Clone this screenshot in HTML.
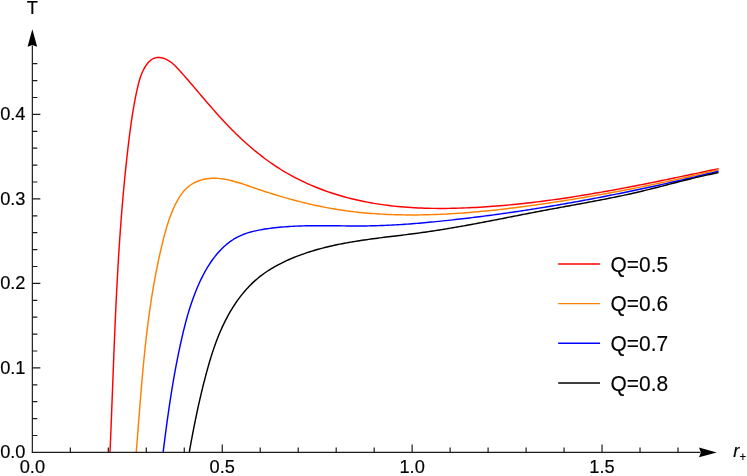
<!DOCTYPE html><html><head><meta charset="utf-8"><title>T vs r+</title>
<style>html,body{margin:0;padding:0;background:#fff}svg{display:block;will-change:transform}text{font-family:"Liberation Sans",sans-serif;fill:#000}</style></head><body>
<svg width="747" height="476" viewBox="0 0 747 476">
<rect width="747" height="476" fill="#fff"/>
<g fill="none" stroke-width="1.45" stroke-linejoin="round" stroke-linecap="butt">
<path stroke="#ff0000" d="M110.02 451.99 L110.17 448.58 L110.31 445.17 L110.46 441.76 L110.60 438.35 L110.74 434.94 L110.88 431.52 L111.02 428.11 L111.16 424.70 L111.29 421.29 L111.43 417.87 L111.56 414.46 L111.69 411.05 L111.82 407.64 L111.95 404.22 L112.09 400.81 L112.22 397.40 L112.35 393.98 L112.48 390.57 L112.61 387.16 L112.74 383.74 L112.87 380.33 L113.00 376.92 L113.13 373.50 L113.26 370.09 L113.39 366.68 L113.52 363.26 L113.65 359.85 L113.79 356.44 L113.92 353.02 L114.06 349.61 L114.20 346.20 L114.34 342.78 L114.48 339.37 L114.62 335.96 L114.76 332.55 L114.90 329.13 L115.05 325.72 L115.20 322.31 L115.35 318.89 L115.50 315.48 L115.66 312.07 L115.82 308.66 L115.98 305.25 L116.14 301.83 L116.31 298.42 L116.47 295.01 L116.64 291.60 L116.82 288.19 L117.00 284.78 L117.18 281.37 L117.36 277.96 L117.55 274.55 L117.74 271.14 L117.93 267.73 L118.13 264.32 L118.34 260.91 L118.54 257.50 L118.75 254.09 L118.97 250.68 L119.19 247.27 L119.41 243.87 L119.64 240.46 L119.87 237.05 L120.11 233.64 L120.35 230.24 L120.60 226.83 L120.85 223.42 L121.11 220.02 L121.37 216.61 L121.64 213.21 L121.91 209.80 L122.19 206.40 L122.48 202.99 L122.77 199.59 L123.07 196.19 L123.37 192.79 L123.68 189.38 L123.99 185.98 L124.32 182.58 L124.64 179.18 L124.98 175.78 L125.32 172.38 L125.67 168.98 L126.03 165.58 L126.39 162.18 L126.76 158.78 L127.13 155.39 L127.52 151.99 L127.91 148.59 L128.31 145.20 L128.72 141.80 L129.13 138.40 L129.56 135.01 L130.00 131.62 L130.45 128.23 L130.91 124.85 L131.39 121.47 L131.89 118.09 L132.41 114.72 L132.95 111.36 L133.51 108.00 L134.10 104.65 L134.71 101.31 L135.35 97.98 L136.01 94.66 L136.71 91.34 L137.44 88.04 L138.21 84.75 L139.05 81.47 L140.03 78.20 L141.17 74.95 L142.53 71.71 L144.16 68.50 L146.06 65.39 L148.25 62.56 L150.70 60.20 L153.41 58.49 L156.37 57.58 L159.51 57.47 L162.71 58.05 L165.88 59.19 L168.91 60.80 L171.70 62.77 L174.30 65.00 L176.74 67.42 L179.08 69.96 L181.38 72.54 L183.67 75.13 L185.93 77.73 L188.19 80.33 L190.43 82.93 L192.66 85.54 L194.89 88.15 L197.11 90.76 L199.32 93.36 L201.54 95.97 L203.75 98.57 L205.97 101.16 L208.19 103.75 L210.42 106.32 L212.66 108.89 L214.91 111.45 L217.17 113.99 L219.44 116.52 L221.74 119.04 L224.05 121.54 L226.38 124.02 L228.74 126.48 L231.12 128.92 L233.52 131.34 L235.95 133.73 L238.41 136.10 L240.89 138.45 L243.39 140.77 L245.93 143.06 L248.49 145.32 L251.07 147.55 L253.68 149.75 L256.32 151.92 L258.99 154.05 L261.68 156.15 L264.40 158.21 L267.14 160.24 L269.92 162.22 L272.72 164.16 L275.55 166.07 L278.41 167.93 L281.30 169.75 L284.21 171.52 L287.15 173.25 L290.13 174.93 L293.13 176.56 L296.15 178.15 L299.20 179.69 L302.27 181.19 L305.37 182.65 L308.49 184.06 L311.62 185.42 L314.78 186.75 L317.96 188.02 L321.15 189.26 L324.36 190.45 L327.59 191.60 L330.83 192.71 L334.09 193.77 L337.36 194.79 L340.64 195.77 L343.93 196.71 L347.23 197.61 L350.53 198.46 L353.85 199.27 L357.17 200.05 L360.50 200.78 L363.84 201.48 L367.18 202.14 L370.53 202.76 L373.89 203.34 L377.25 203.89 L380.62 204.40 L383.99 204.88 L387.36 205.32 L390.75 205.73 L394.13 206.11 L397.52 206.46 L400.91 206.77 L404.31 207.06 L407.71 207.31 L411.12 207.54 L414.52 207.74 L417.93 207.92 L421.34 208.06 L424.76 208.18 L428.17 208.28 L431.59 208.35 L435.01 208.40 L438.43 208.42 L441.85 208.43 L445.27 208.41 L448.69 208.37 L452.11 208.31 L455.53 208.24 L458.95 208.14 L462.37 208.03 L465.79 207.90 L469.21 207.75 L472.62 207.59 L476.04 207.41 L479.45 207.22 L482.86 207.01 L486.27 206.79 L489.68 206.56 L493.08 206.31 L496.49 206.04 L499.89 205.77 L503.30 205.48 L506.70 205.17 L510.10 204.86 L513.49 204.53 L516.89 204.18 L520.29 203.83 L523.68 203.46 L527.07 203.08 L530.46 202.69 L533.85 202.29 L537.24 201.88 L540.63 201.45 L544.02 201.02 L547.40 200.57 L550.78 200.12 L554.17 199.65 L557.55 199.17 L560.93 198.69 L564.31 198.19 L567.68 197.69 L571.06 197.17 L574.43 196.65 L577.81 196.12 L581.18 195.57 L584.55 195.03 L587.92 194.47 L591.29 193.90 L594.66 193.33 L598.03 192.75 L601.39 192.16 L604.76 191.57 L608.12 190.96 L611.48 190.35 L614.84 189.74 L618.20 189.12 L621.56 188.49 L624.92 187.86 L628.28 187.22 L631.64 186.58 L634.99 185.93 L638.35 185.27 L641.70 184.61 L645.05 183.95 L648.40 183.28 L651.75 182.61 L655.10 181.93 L658.45 181.25 L661.80 180.57 L665.15 179.89 L668.50 179.20 L671.84 178.50 L675.19 177.81 L678.53 177.11 L681.87 176.41 L685.22 175.71 L688.56 175.01 L691.90 174.30 L695.24 173.60 L698.58 172.89 L701.92 172.18 L705.25 171.47 L708.59 170.76 L711.93 170.05 L715.26 169.34 L718.60 168.63"/>
<path stroke="#ff8000" d="M136.28 451.98 L136.50 449.28 L136.71 446.57 L136.93 443.87 L137.14 441.16 L137.35 438.45 L137.56 435.74 L137.77 433.03 L137.98 430.32 L138.19 427.60 L138.40 424.89 L138.61 422.18 L138.82 419.46 L139.03 416.75 L139.24 414.03 L139.46 411.32 L139.67 408.60 L139.88 405.88 L140.10 403.17 L140.32 400.45 L140.54 397.73 L140.76 395.01 L140.98 392.30 L141.21 389.58 L141.44 386.86 L141.67 384.14 L141.90 381.42 L142.14 378.71 L142.38 375.99 L142.62 373.27 L142.87 370.56 L143.12 367.84 L143.38 365.12 L143.64 362.41 L143.90 359.69 L144.17 356.98 L144.45 354.27 L144.73 351.55 L145.01 348.84 L145.30 346.13 L145.60 343.42 L145.90 340.71 L146.20 338.00 L146.52 335.29 L146.84 332.58 L147.16 329.88 L147.50 327.17 L147.84 324.47 L148.18 321.77 L148.54 319.07 L148.90 316.37 L149.27 313.67 L149.64 310.97 L150.03 308.28 L150.42 305.58 L150.83 302.89 L151.24 300.20 L151.65 297.51 L152.08 294.83 L152.52 292.14 L152.97 289.46 L153.42 286.78 L153.89 284.10 L154.37 281.42 L154.85 278.75 L155.35 276.07 L155.85 273.40 L156.37 270.74 L156.90 268.07 L157.44 265.41 L157.99 262.74 L158.55 260.09 L159.13 257.43 L159.71 254.78 L160.31 252.12 L160.92 249.48 L161.54 246.83 L162.18 244.19 L162.82 241.55 L163.48 238.91 L164.16 236.28 L164.85 233.65 L165.57 231.02 L166.32 228.41 L167.09 225.80 L167.91 223.19 L168.76 220.60 L169.65 218.02 L170.60 215.45 L171.59 212.89 L172.64 210.35 L173.76 207.82 L174.93 205.30 L176.18 202.81 L177.50 200.35 L178.91 197.95 L180.41 195.63 L182.01 193.39 L183.71 191.27 L185.53 189.28 L187.47 187.43 L189.54 185.75 L191.74 184.24 L194.04 182.90 L196.44 181.74 L198.93 180.74 L201.49 179.91 L204.10 179.25 L206.76 178.76 L209.46 178.43 L212.17 178.27 L214.89 178.25 L217.60 178.36 L220.30 178.60 L222.98 178.94 L225.65 179.38 L228.30 179.91 L230.94 180.52 L233.58 181.19 L236.20 181.93 L238.82 182.73 L241.43 183.56 L244.03 184.42 L246.64 185.31 L249.24 186.21 L251.84 187.11 L254.44 188.01 L257.04 188.90 L259.64 189.77 L262.24 190.63 L264.85 191.49 L267.46 192.33 L270.06 193.16 L272.67 193.98 L275.28 194.78 L277.90 195.57 L280.51 196.35 L283.13 197.12 L285.75 197.87 L288.37 198.61 L290.99 199.33 L293.62 200.04 L296.25 200.74 L298.88 201.42 L301.51 202.08 L304.15 202.73 L306.79 203.37 L309.43 203.99 L312.07 204.59 L314.72 205.18 L317.37 205.75 L320.03 206.30 L322.69 206.84 L325.35 207.35 L328.01 207.85 L330.68 208.34 L333.35 208.80 L336.03 209.25 L338.71 209.68 L341.39 210.08 L344.08 210.47 L346.77 210.85 L349.47 211.20 L352.16 211.54 L354.87 211.86 L357.57 212.16 L360.28 212.44 L362.98 212.71 L365.70 212.96 L368.41 213.20 L371.13 213.42 L373.84 213.62 L376.56 213.81 L379.29 213.98 L382.01 214.14 L384.73 214.28 L387.46 214.41 L390.19 214.52 L392.91 214.62 L395.64 214.71 L398.37 214.78 L401.10 214.84 L403.83 214.88 L406.56 214.91 L409.29 214.93 L412.02 214.94 L414.75 214.93 L417.48 214.91 L420.21 214.88 L422.94 214.84 L425.66 214.78 L428.39 214.72 L431.12 214.64 L433.84 214.56 L436.56 214.46 L439.29 214.35 L442.01 214.23 L444.73 214.10 L447.45 213.96 L450.17 213.81 L452.89 213.65 L455.60 213.48 L458.32 213.30 L461.03 213.12 L463.75 212.92 L466.46 212.71 L469.18 212.50 L471.89 212.28 L474.60 212.04 L477.31 211.80 L480.02 211.56 L482.73 211.30 L485.44 211.04 L488.15 210.76 L490.86 210.49 L493.56 210.20 L496.27 209.91 L498.97 209.61 L501.68 209.30 L504.38 208.98 L507.08 208.66 L509.79 208.34 L512.49 208.01 L515.19 207.67 L517.89 207.32 L520.59 206.97 L523.29 206.62 L525.99 206.26 L528.69 205.89 L531.38 205.52 L534.08 205.15 L536.78 204.77 L539.47 204.38 L542.17 203.99 L544.86 203.60 L547.56 203.20 L550.25 202.80 L552.94 202.40 L555.64 201.99 L558.33 201.58 L561.02 201.16 L563.71 200.74 L566.40 200.31 L569.09 199.89 L571.78 199.45 L574.47 199.02 L577.16 198.58 L579.84 198.13 L582.53 197.68 L585.22 197.23 L587.90 196.78 L590.59 196.32 L593.27 195.85 L595.95 195.38 L598.64 194.91 L601.32 194.44 L604.00 193.96 L606.68 193.47 L609.36 192.99 L612.04 192.50 L614.72 192.00 L617.40 191.50 L620.08 191.00 L622.75 190.49 L625.43 189.98 L628.10 189.47 L630.78 188.95 L633.45 188.43 L636.12 187.90 L638.80 187.37 L641.47 186.84 L644.14 186.30 L646.81 185.76 L649.48 185.21 L652.15 184.66 L654.81 184.11 L657.48 183.55 L660.15 182.99 L662.81 182.43 L665.48 181.86 L668.14 181.29 L670.80 180.71 L673.46 180.13 L676.12 179.55 L678.79 178.96 L681.44 178.37 L684.10 177.78 L686.76 177.18 L689.42 176.58 L692.07 175.97 L694.73 175.36 L697.38 174.75 L700.03 174.13 L702.69 173.51 L705.34 172.89 L707.99 172.26 L710.64 171.63 L713.29 170.99 L715.93 170.35 L718.58 169.71"/>
<path stroke="#0000ff" d="M163.17 451.96 L163.46 449.58 L163.76 447.20 L164.06 444.82 L164.36 442.43 L164.67 440.05 L164.97 437.66 L165.28 435.27 L165.60 432.89 L165.91 430.50 L166.23 428.11 L166.55 425.72 L166.87 423.33 L167.20 420.93 L167.53 418.54 L167.87 416.15 L168.21 413.76 L168.55 411.37 L168.90 408.98 L169.25 406.58 L169.60 404.19 L169.96 401.80 L170.33 399.41 L170.70 397.02 L171.07 394.63 L171.45 392.24 L171.84 389.85 L172.23 387.46 L172.62 385.08 L173.02 382.69 L173.43 380.31 L173.84 377.92 L174.26 375.54 L174.69 373.16 L175.12 370.78 L175.56 368.41 L176.00 366.03 L176.46 363.66 L176.91 361.28 L177.38 358.91 L177.85 356.55 L178.33 354.18 L178.82 351.82 L179.32 349.46 L179.82 347.10 L180.33 344.74 L180.85 342.39 L181.38 340.04 L181.91 337.69 L182.46 335.34 L183.01 333.00 L183.57 330.66 L184.15 328.32 L184.73 325.99 L185.33 323.66 L185.95 321.34 L186.57 319.02 L187.22 316.71 L187.88 314.40 L188.56 312.10 L189.25 309.80 L189.97 307.51 L190.71 305.22 L191.46 302.94 L192.25 300.67 L193.05 298.40 L193.88 296.14 L194.73 293.89 L195.61 291.65 L196.52 289.41 L197.45 287.19 L198.42 284.97 L199.41 282.76 L200.44 280.55 L201.50 278.36 L202.59 276.18 L203.71 274.02 L204.87 271.87 L206.07 269.75 L207.31 267.65 L208.58 265.57 L209.90 263.52 L211.26 261.51 L212.66 259.53 L214.11 257.58 L215.60 255.67 L217.14 253.81 L218.73 251.99 L220.37 250.22 L222.06 248.50 L223.80 246.83 L225.60 245.22 L227.44 243.68 L229.33 242.20 L231.28 240.80 L233.27 239.48 L235.31 238.25 L237.40 237.10 L239.53 236.05 L241.71 235.09 L243.92 234.21 L246.18 233.41 L248.46 232.67 L250.77 232.01 L253.11 231.40 L255.46 230.85 L257.83 230.35 L260.22 229.89 L262.61 229.47 L265.01 229.08 L267.40 228.71 L269.80 228.38 L272.21 228.07 L274.61 227.78 L277.01 227.51 L279.41 227.27 L281.82 227.05 L284.22 226.85 L286.63 226.66 L289.04 226.50 L291.44 226.35 L293.85 226.23 L296.26 226.11 L298.67 226.02 L301.08 225.93 L303.49 225.86 L305.90 225.80 L308.32 225.76 L310.73 225.72 L313.14 225.70 L315.55 225.68 L317.97 225.68 L320.38 225.68 L322.80 225.68 L325.21 225.69 L327.62 225.71 L330.04 225.73 L332.45 225.76 L334.87 225.78 L337.28 225.81 L339.70 225.84 L342.11 225.86 L344.53 225.89 L346.95 225.91 L349.36 225.93 L351.78 225.95 L354.19 225.96 L356.60 225.97 L359.02 225.97 L361.43 225.96 L363.85 225.94 L366.26 225.92 L368.67 225.88 L371.09 225.84 L373.50 225.78 L375.91 225.72 L378.32 225.64 L380.74 225.56 L383.15 225.47 L385.56 225.37 L387.97 225.26 L390.38 225.14 L392.79 225.02 L395.20 224.89 L397.61 224.75 L400.01 224.60 L402.42 224.44 L404.83 224.28 L407.24 224.11 L409.64 223.93 L412.05 223.75 L414.46 223.56 L416.86 223.37 L419.27 223.17 L421.67 222.96 L424.08 222.75 L426.48 222.53 L428.89 222.31 L431.29 222.08 L433.69 221.85 L436.09 221.61 L438.50 221.37 L440.90 221.13 L443.30 220.88 L445.70 220.63 L448.10 220.37 L450.50 220.11 L452.90 219.85 L455.30 219.58 L457.70 219.31 L460.09 219.04 L462.49 218.76 L464.89 218.48 L467.28 218.20 L469.68 217.91 L472.08 217.62 L474.47 217.32 L476.87 217.03 L479.26 216.72 L481.65 216.42 L484.05 216.11 L486.44 215.80 L488.83 215.49 L491.22 215.17 L493.62 214.85 L496.01 214.52 L498.40 214.19 L500.79 213.86 L503.18 213.53 L505.57 213.19 L507.96 212.85 L510.34 212.51 L512.73 212.16 L515.12 211.81 L517.51 211.46 L519.89 211.10 L522.28 210.74 L524.66 210.38 L527.05 210.01 L529.43 209.64 L531.82 209.27 L534.20 208.89 L536.58 208.51 L538.97 208.13 L541.35 207.75 L543.73 207.36 L546.11 206.97 L548.49 206.57 L550.87 206.18 L553.25 205.78 L555.63 205.38 L558.01 204.97 L560.39 204.56 L562.76 204.15 L565.14 203.74 L567.52 203.32 L569.89 202.90 L572.27 202.47 L574.65 202.05 L577.02 201.62 L579.39 201.19 L581.77 200.75 L584.14 200.32 L586.51 199.88 L588.89 199.43 L591.26 198.99 L593.63 198.54 L596.00 198.09 L598.37 197.64 L600.74 197.18 L603.11 196.72 L605.48 196.26 L607.85 195.79 L610.21 195.33 L612.58 194.86 L614.95 194.38 L617.31 193.91 L619.68 193.43 L622.05 192.95 L624.41 192.47 L626.77 191.98 L629.14 191.49 L631.50 191.00 L633.86 190.51 L636.23 190.01 L638.59 189.52 L640.95 189.02 L643.31 188.51 L645.67 188.01 L648.03 187.50 L650.39 186.99 L652.75 186.48 L655.11 185.96 L657.46 185.44 L659.82 184.92 L662.18 184.40 L664.53 183.88 L666.89 183.35 L669.24 182.82 L671.60 182.29 L673.95 181.75 L676.30 181.22 L678.66 180.68 L681.01 180.14 L683.36 179.60 L685.71 179.05 L688.06 178.50 L690.41 177.95 L692.76 177.40 L695.11 176.85 L697.46 176.29 L699.81 175.73 L702.16 175.17 L704.50 174.61 L706.85 174.04 L709.20 173.48 L711.54 172.91 L713.89 172.34 L716.23 171.76 L718.57 171.19"/>
<path stroke="#000000" d="M189.31 451.99 L189.71 449.78 L190.10 447.58 L190.50 445.38 L190.90 443.19 L191.31 440.99 L191.72 438.80 L192.13 436.61 L192.54 434.42 L192.96 432.24 L193.39 430.05 L193.81 427.87 L194.24 425.69 L194.68 423.51 L195.12 421.33 L195.56 419.15 L196.01 416.98 L196.47 414.81 L196.92 412.63 L197.39 410.46 L197.86 408.30 L198.33 406.13 L198.81 403.96 L199.30 401.80 L199.79 399.64 L200.29 397.47 L200.79 395.31 L201.30 393.15 L201.82 391.00 L202.34 388.84 L202.87 386.68 L203.41 384.53 L203.95 382.37 L204.51 380.22 L205.06 378.07 L205.63 375.92 L206.20 373.77 L206.78 371.62 L207.37 369.47 L207.97 367.32 L208.58 365.18 L209.20 363.04 L209.83 360.90 L210.48 358.76 L211.13 356.63 L211.80 354.50 L212.49 352.38 L213.19 350.26 L213.91 348.14 L214.64 346.04 L215.39 343.93 L216.16 341.84 L216.95 339.75 L217.75 337.67 L218.58 335.59 L219.43 333.53 L220.30 331.47 L221.20 329.42 L222.12 327.38 L223.06 325.35 L224.03 323.32 L225.02 321.31 L226.04 319.31 L227.08 317.33 L228.15 315.36 L229.25 313.40 L230.37 311.46 L231.52 309.53 L232.70 307.63 L233.90 305.74 L235.14 303.87 L236.39 302.02 L237.68 300.20 L239.00 298.40 L240.34 296.62 L241.71 294.87 L243.11 293.14 L244.54 291.44 L246.00 289.77 L247.48 288.13 L249.00 286.52 L250.54 284.93 L252.12 283.39 L253.73 281.87 L255.36 280.39 L257.03 278.94 L258.73 277.53 L260.46 276.16 L262.21 274.82 L264.00 273.52 L265.81 272.25 L267.65 271.02 L269.51 269.82 L271.39 268.65 L273.30 267.52 L275.22 266.41 L277.17 265.34 L279.13 264.29 L281.11 263.28 L283.10 262.29 L285.11 261.33 L287.13 260.40 L289.16 259.49 L291.20 258.61 L293.25 257.75 L295.31 256.92 L297.38 256.11 L299.45 255.33 L301.53 254.57 L303.61 253.83 L305.71 253.11 L307.81 252.41 L309.91 251.73 L312.02 251.08 L314.14 250.44 L316.27 249.82 L318.40 249.22 L320.53 248.64 L322.67 248.08 L324.82 247.53 L326.97 247.00 L329.13 246.48 L331.29 245.99 L333.46 245.50 L335.63 245.03 L337.80 244.58 L339.98 244.13 L342.16 243.71 L344.35 243.29 L346.54 242.89 L348.73 242.49 L350.93 242.11 L353.13 241.74 L355.33 241.38 L357.54 241.02 L359.74 240.68 L361.95 240.34 L364.17 240.02 L366.38 239.70 L368.60 239.38 L370.82 239.08 L373.04 238.78 L375.26 238.48 L377.48 238.19 L379.71 237.90 L381.94 237.62 L384.16 237.34 L386.39 237.06 L388.62 236.79 L390.84 236.52 L393.07 236.24 L395.30 235.97 L397.53 235.70 L399.76 235.43 L401.98 235.16 L404.21 234.88 L406.44 234.61 L408.66 234.33 L410.89 234.05 L413.11 233.77 L415.33 233.48 L417.55 233.19 L419.77 232.89 L421.98 232.59 L424.20 232.28 L426.41 231.96 L428.62 231.64 L430.82 231.32 L433.03 230.99 L435.23 230.65 L437.44 230.31 L439.64 229.96 L441.84 229.61 L444.03 229.26 L446.23 228.90 L448.42 228.53 L450.62 228.16 L452.81 227.79 L455.00 227.41 L457.19 227.03 L459.37 226.65 L461.56 226.26 L463.75 225.87 L465.93 225.47 L468.11 225.07 L470.30 224.67 L472.48 224.27 L474.66 223.87 L476.84 223.46 L479.02 223.05 L481.20 222.63 L483.38 222.22 L485.55 221.80 L487.73 221.38 L489.91 220.96 L492.09 220.54 L494.26 220.12 L496.44 219.69 L498.62 219.27 L500.79 218.84 L502.97 218.42 L505.15 217.99 L507.32 217.56 L509.50 217.13 L511.68 216.71 L513.85 216.28 L516.03 215.85 L518.21 215.42 L520.39 215.00 L522.57 214.57 L524.75 214.14 L526.93 213.72 L529.11 213.29 L531.29 212.87 L533.47 212.45 L535.66 212.03 L537.84 211.61 L540.02 211.20 L542.21 210.78 L544.40 210.37 L546.59 209.96 L548.78 209.55 L550.97 209.15 L553.16 208.74 L555.35 208.34 L557.54 207.94 L559.74 207.53 L561.93 207.13 L564.13 206.73 L566.32 206.33 L568.52 205.93 L570.72 205.53 L572.91 205.13 L575.11 204.73 L577.31 204.33 L579.50 203.93 L581.70 203.52 L583.89 203.12 L586.09 202.71 L588.29 202.30 L590.48 201.89 L592.68 201.48 L594.87 201.07 L597.07 200.65 L599.26 200.23 L601.45 199.81 L603.64 199.38 L605.83 198.95 L608.02 198.52 L610.21 198.08 L612.40 197.64 L614.58 197.20 L616.77 196.75 L618.95 196.30 L621.14 195.84 L623.32 195.37 L625.50 194.91 L627.67 194.43 L629.85 193.95 L632.02 193.47 L634.19 192.97 L636.36 192.48 L638.53 191.97 L640.70 191.46 L642.86 190.95 L645.02 190.42 L647.18 189.89 L649.34 189.36 L651.50 188.82 L653.65 188.28 L655.81 187.73 L657.96 187.18 L660.11 186.63 L662.27 186.08 L664.42 185.52 L666.57 184.97 L668.72 184.41 L670.87 183.85 L673.02 183.30 L675.18 182.74 L677.33 182.19 L679.48 181.64 L681.64 181.09 L683.79 180.54 L685.95 180.00 L688.11 179.46 L690.27 178.93 L692.43 178.40 L694.60 177.88 L696.76 177.36 L698.93 176.85 L701.10 176.35 L703.28 175.86 L705.45 175.37 L707.63 174.89 L709.82 174.43 L712.00 173.97 L714.19 173.52 L716.39 173.08 L718.58 172.66"/>
</g>
<g stroke="#1c1c1c" stroke-width="1.2" fill="none">
<path d="M32.35 452.90 V45.50"/>
<path d="M31.85 452.40 H700.50"/>
<path d="M70.33 452.40v-5.00M108.31 452.40v-5.00M146.29 452.40v-5.00M184.27 452.40v-5.00M222.25 452.40v-8.00M260.23 452.40v-5.00M298.21 452.40v-5.00M336.19 452.40v-5.00M374.17 452.40v-5.00M412.15 452.40v-8.00M450.13 452.40v-5.00M488.11 452.40v-5.00M526.09 452.40v-5.00M564.07 452.40v-5.00M602.05 452.40v-8.00M640.03 452.40v-5.00M678.01 452.40v-5.00M32.35 435.50h5.00M32.35 418.60h5.00M32.35 401.70h5.00M32.35 384.80h5.00M32.35 367.90h8.00M32.35 351.00h5.00M32.35 334.10h5.00M32.35 317.20h5.00M32.35 300.30h5.00M32.35 283.40h8.00M32.35 266.50h5.00M32.35 249.60h5.00M32.35 232.70h5.00M32.35 215.80h5.00M32.35 198.90h8.00M32.35 182.00h5.00M32.35 165.10h5.00M32.35 148.20h5.00M32.35 131.30h5.00M32.35 114.40h8.00M32.35 97.50h5.00M32.35 80.60h5.00M32.35 63.70h5.00"/>
</g>
<path fill="#000" d="M32.35 29.2 L37.15 46.8 L32.35 44.9 L27.55 46.8 Z"/>
<path fill="#000" d="M716.7 452.40 L699.0 457.20 L700.9 452.40 L699.0 447.60 Z"/>
<g font-size="19.20" stroke="#000" stroke-width="0.18">
<text transform="translate(32.35 472.60) scale(0.950 1)" text-anchor="middle">0.0</text>
<text transform="translate(222.25 472.60) scale(0.950 1)" text-anchor="middle">0.5</text>
<text transform="translate(412.15 472.60) scale(0.950 1)" text-anchor="middle">1.0</text>
<text transform="translate(602.05 472.60) scale(0.950 1)" text-anchor="middle">1.5</text>
<text transform="translate(25.50 458.30) scale(0.950 1)" text-anchor="end">0.0</text>
<text transform="translate(25.50 373.80) scale(0.950 1)" text-anchor="end">0.1</text>
<text transform="translate(25.50 289.30) scale(0.950 1)" text-anchor="end">0.2</text>
<text transform="translate(25.50 204.80) scale(0.950 1)" text-anchor="end">0.3</text>
<text transform="translate(25.50 120.30) scale(0.950 1)" text-anchor="end">0.4</text>
<text transform="translate(32.25 14.20) scale(0.950 1)" text-anchor="middle">T</text>
<text transform="translate(733.20 457.00) scale(0.950 1)" font-style="italic">r<tspan font-style="normal" font-size="12.10" dx="0.20" dy="3.70">+</tspan></text>
</g>
<g font-size="22.40" stroke="#000" stroke-width="0.12">
<path d="M558.2 263.90 H600" stroke="#ff0000" stroke-width="1.45" fill="none"/>
<text transform="translate(610.50 271.50) scale(0.935 1)">Q=0.5</text>
<path d="M558.2 303.60 H600" stroke="#ff8000" stroke-width="1.45" fill="none"/>
<text transform="translate(610.50 311.20) scale(0.935 1)">Q=0.6</text>
<path d="M558.2 343.30 H600" stroke="#0000ff" stroke-width="1.45" fill="none"/>
<text transform="translate(610.50 350.90) scale(0.935 1)">Q=0.7</text>
<path d="M558.2 383.00 H600" stroke="#000000" stroke-width="1.45" fill="none"/>
<text transform="translate(610.50 390.60) scale(0.935 1)">Q=0.8</text>
</g>
</svg></body></html>
